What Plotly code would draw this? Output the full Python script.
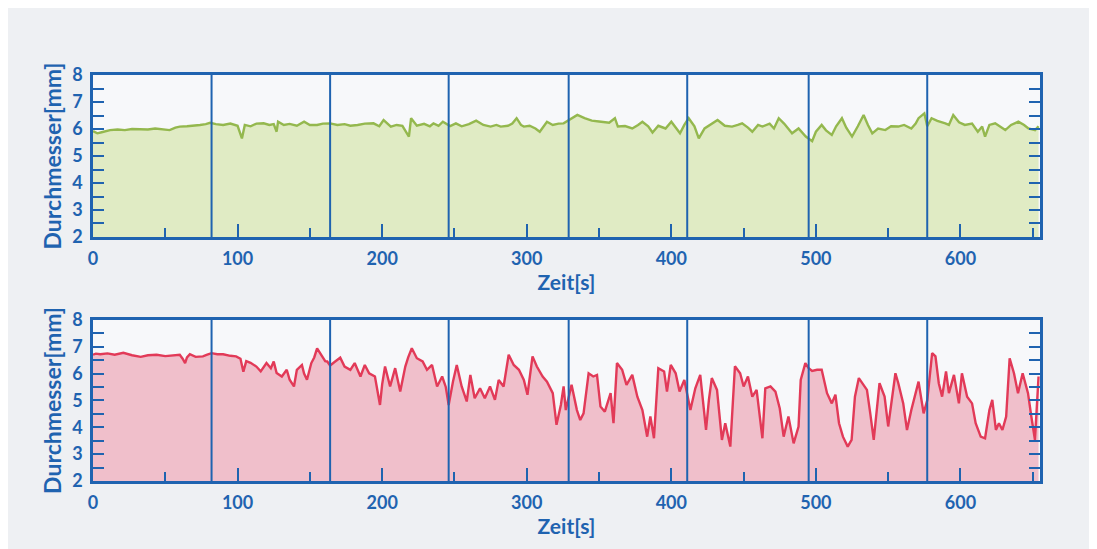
import plotly.graph_objects as go

# ---------------- data ----------------
green_t = [0, 3, 6, 11.8, 17, 22, 27, 32.5, 38, 43, 48, 53, 57, 60, 65, 70, 74, 78, 81, 85,
           90, 95, 100, 103, 105, 109, 113, 118, 122, 125, 127, 128, 132, 136, 141, 146, 150,
           155, 159, 164, 169, 174, 178, 183, 188, 194, 198, 201, 206, 210, 214, 218.5, 220,
           224, 229, 233, 235.5, 239, 242, 247, 251, 255, 260, 265, 270, 275, 279, 282, 287,
           290, 293, 296, 298, 302, 306, 309, 312, 314, 318, 322, 325.5, 329, 332, 335, 340,
           345, 350, 354, 357, 361, 363, 368, 373, 377, 380, 384, 387, 391, 396, 400, 403,
           406, 409, 412, 416, 419, 423, 427, 432, 437, 442, 446, 449, 453, 456, 460, 463,
           468, 471, 474.3, 478, 483.5, 488, 493, 497.4, 500, 504, 507, 511, 514, 518, 521,
           525, 529, 533, 536, 539, 543, 548, 552, 557, 561, 566, 569, 571, 575, 577, 580,
           584, 589.5, 592, 595, 599, 603, 608, 612, 615, 617, 620, 624, 628, 631, 635, 640,
           644, 647, 651.6, 654]
green_v = [5.92, 5.84, 5.88, 5.96, 5.98, 5.96, 6.00, 6.00, 5.98, 6.02, 5.98, 5.96, 6.05, 6.09,
           6.10, 6.12, 6.15, 6.18, 6.23, 6.18, 6.15, 6.20, 6.12, 5.65, 6.15, 6.10, 6.20, 6.21,
           6.15, 6.18, 5.90, 6.27, 6.15, 6.19, 6.12, 6.27, 6.15, 6.15, 6.20, 6.21, 6.15, 6.18,
           6.12, 6.15, 6.20, 6.21, 6.10, 6.33, 6.09, 6.15, 6.12, 5.72, 6.40, 6.12, 6.19, 6.10,
           6.21, 6.12, 6.27, 6.11, 6.21, 6.10, 6.18, 6.31, 6.15, 6.09, 6.15, 6.09, 6.12, 6.20,
           6.40, 6.15, 6.09, 6.12, 6.02, 5.90, 6.15, 6.27, 6.15, 6.20, 6.21, 6.33, 6.45, 6.52,
           6.40, 6.31, 6.28, 6.25, 6.23, 6.40, 6.09, 6.11, 6.02, 6.15, 6.27, 6.10, 5.87, 6.12,
           6.02, 6.27, 6.05, 5.84, 6.15, 6.40, 6.10, 5.65, 6.02, 6.15, 6.33, 6.12, 6.09, 6.15,
           6.21, 6.05, 5.90, 6.15, 6.09, 6.20, 6.02, 6.40, 6.20, 5.84, 6.02, 5.72, 5.55, 5.90,
           6.15, 5.95, 5.78, 6.10, 6.40, 6.05, 5.72, 6.10, 6.52, 6.15, 5.84, 6.02, 5.96, 6.10,
           6.09, 6.15, 6.02, 6.20, 6.40, 6.58, 6.10, 6.40, 6.30, 6.21, 6.15, 6.52, 6.25, 6.15,
           6.20, 5.90, 6.09, 5.72, 6.15, 6.21, 6.05, 5.96, 6.15, 6.27, 6.15, 6.02, 5.96, 6.10]

red_t = [0, 2, 5, 10, 15, 21, 27, 33, 38, 44, 50, 56, 60, 62, 63.7, 65, 67, 71, 76, 79, 82,
         86, 90, 95, 99, 102, 104, 106, 109, 113, 116, 120, 123, 125, 127, 130.6, 134, 136,
         139, 141, 144.5, 146, 148, 151, 153, 155, 158, 160.6, 162, 164, 167.5, 171, 174, 178,
         181, 185, 188, 191, 195, 198.5, 200, 202, 205.5, 209, 212.5, 216, 218, 220.5, 224,
         228, 231, 234.5, 238, 241.5, 244, 246, 249, 251.6, 255, 258.5, 261, 264, 267.7, 271,
         274.6, 278, 280.6, 284, 287.5, 291, 294.6, 298, 300.5, 304, 307, 311, 314, 318, 320.6,
         323.6, 325.5, 327, 331, 334.7, 337, 339.3, 342.8, 346, 348.6, 351, 354, 358, 360,
         362.4, 366, 369, 373, 376.5, 380, 383.3, 385.5, 388, 391, 395, 397, 399.6, 403, 405.7,
         409, 413.2, 416.6, 420, 424, 426, 428, 431.6, 435, 437.3, 440.8, 444, 447.6, 450, 453,
         456, 459, 463, 465, 468.6, 472, 475, 477.7, 481, 484.6, 488, 489.5, 492.7, 495, 497.4,
         500.8, 504, 507.7, 511, 513.5, 516, 518.7, 522, 524.7, 527, 529.7, 533, 535.3, 537.6,
         540, 544, 547.5, 550, 555, 557, 560.4, 563, 566, 571, 574.5, 577, 580.4, 582.7, 585,
         587.3, 590, 592, 595.5, 598.9, 601, 604.6, 608, 610.5, 614, 617, 620, 622, 624.5,
         626.6, 629, 631.6, 634, 637, 639.8, 643, 646.7, 649, 651.5, 654]
red_v = [6.70, 6.74, 6.72, 6.75, 6.70, 6.77, 6.68, 6.62, 6.68, 6.70, 6.65, 6.67, 6.70, 6.55,
         6.39, 6.60, 6.72, 6.62, 6.64, 6.70, 6.76, 6.72, 6.72, 6.66, 6.64, 6.55, 6.07, 6.46,
         6.40, 6.26, 6.08, 6.39, 6.20, 6.45, 6.02, 5.89, 6.14, 5.77, 5.52, 6.14, 6.32, 6.00,
         5.77, 6.39, 6.60, 6.94, 6.70, 6.46, 6.45, 6.30, 6.45, 6.59, 6.26, 6.14, 6.39, 5.89,
         6.32, 6.01, 5.89, 4.83, 5.60, 6.26, 5.52, 6.20, 5.33, 6.26, 6.60, 6.94, 6.57, 6.45,
         6.14, 6.32, 5.52, 5.89, 5.50, 4.83, 5.70, 6.32, 5.52, 4.96, 5.95, 5.08, 5.45, 5.08,
         5.52, 5.02, 5.76, 5.52, 6.70, 6.32, 6.14, 5.76, 5.21, 6.64, 6.26, 5.89, 5.70, 5.27,
         4.09, 4.83, 5.52, 4.64, 5.58, 4.64, 4.27, 4.52, 6.01, 5.89, 5.95, 4.77, 4.58, 5.27,
         4.15, 6.39, 6.14, 5.58, 5.95, 5.14, 4.64, 3.65, 4.40, 3.59, 6.20, 6.08, 5.33, 6.32,
         6.01, 5.33, 5.76, 4.64, 5.45, 5.95, 3.90, 5.02, 5.83, 5.39, 3.53, 4.15, 3.28, 6.27,
         6.01, 5.52, 5.89, 5.14, 5.39, 3.59, 5.45, 5.52, 5.33, 4.70, 3.65, 4.40, 3.40, 4.03,
         5.76, 6.39, 6.20, 6.10, 6.14, 6.14, 5.27, 4.89, 5.21, 4.15, 3.65, 3.28, 3.53, 5.14,
         5.83, 5.58, 5.39, 4.52, 3.53, 5.64, 5.14, 4.03, 6.01, 5.64, 4.89, 3.90, 4.64, 5.70,
         4.52, 5.00, 6.76, 6.64, 5.64, 5.14, 6.08, 5.27, 5.95, 4.89, 6.01, 5.14, 4.89, 4.15,
         3.65, 3.59, 4.64, 5.02, 3.90, 4.15, 3.90, 4.40, 6.57, 6.01, 5.27, 6.01, 5.27, 4.40,
         3.53, 5.89]

section_bounds = [82, 164, 246, 329, 411, 495, 577]
x_title = "Zeit[s]"
y_title = "Durchmesser[mm]"

# ---------------- styling ----------------
BLUE = "#1f63b0"
FONT = "Lato"

fig = go.Figure()
fig.add_trace(go.Scatter(x=green_t, y=green_v, mode="lines", fill="tozeroy",
                         line=dict(color="#94b84e", width=2.4),
                         fillcolor="rgba(208,226,160,0.6)", xaxis="x", yaxis="y",
                         showlegend=False, hoverinfo="skip"))
fig.add_trace(go.Scatter(x=red_t, y=red_v, mode="lines", fill="tozeroy",
                         line=dict(color="#e23a58", width=2.4),
                         fillcolor="rgba(236,160,178,0.65)", xaxis="x2", yaxis="y2",
                         showlegend=False, hoverinfo="skip"))

shapes = []
for xr, yr in (("x", "y domain"), ("x2", "y2 domain")):
    for b in section_bounds:
        shapes.append(dict(type="line", xref=xr, yref=yr, x0=b, x1=b, y0=0, y1=1,
                           line=dict(color=BLUE, width=2)))

tickfont = dict(family=FONT, size=18, color=BLUE, weight="bold")
titlefont = dict(family=FONT, size=21, color=BLUE, weight="bold")
ytitlefont = dict(family=FONT, size=23, color=BLUE, weight="bold")


def xaxis(domain_anchor):
    return dict(range=[0, 655], dtick=100, tick0=0, ticks="inside", ticklen=13,
                tickwidth=2, tickcolor=BLUE, showline=True, linecolor=BLUE, linewidth=2.5,
                mirror=True, showgrid=False, zeroline=False, tickfont=tickfont,
                ticklabelstandoff=4,
                minor=dict(dtick=50, ticks="inside", ticklen=9, tickwidth=2, tickcolor=BLUE,
                           showgrid=False),
                title=dict(text=x_title, font=titlefont, standoff=2), anchor=domain_anchor)


def yaxis(domain, anchor):
    return dict(range=[2, 8], dtick=1, ticks="inside", ticklen=11, tickwidth=2,
                tickcolor=BLUE, showline=True, linecolor=BLUE, linewidth=2.5,
                mirror="ticks", showgrid=False, zeroline=False, tickfont=tickfont,
                ticklabelstandoff=4,
                minor=dict(dtick=0.5, ticks="inside", ticklen=11, tickwidth=2,
                           tickcolor=BLUE, showgrid=False),
                title=dict(text=y_title, font=ytitlefont, standoff=5),
                domain=domain, anchor=anchor)


fig.update_layout(
    width=1089, height=541,
    margin=dict(l=85, r=57, t=67, b=68),
    paper_bgcolor="#eef0f3",
    plot_bgcolor="#f7f8fa",
    xaxis=xaxis("y"),
    yaxis=yaxis([0.601, 1.0], "x"),
    xaxis2=xaxis("y2"),
    yaxis2=yaxis([0.0, 0.397], "x2"),
    shapes=shapes,
)

fig.write_html("out.html")
